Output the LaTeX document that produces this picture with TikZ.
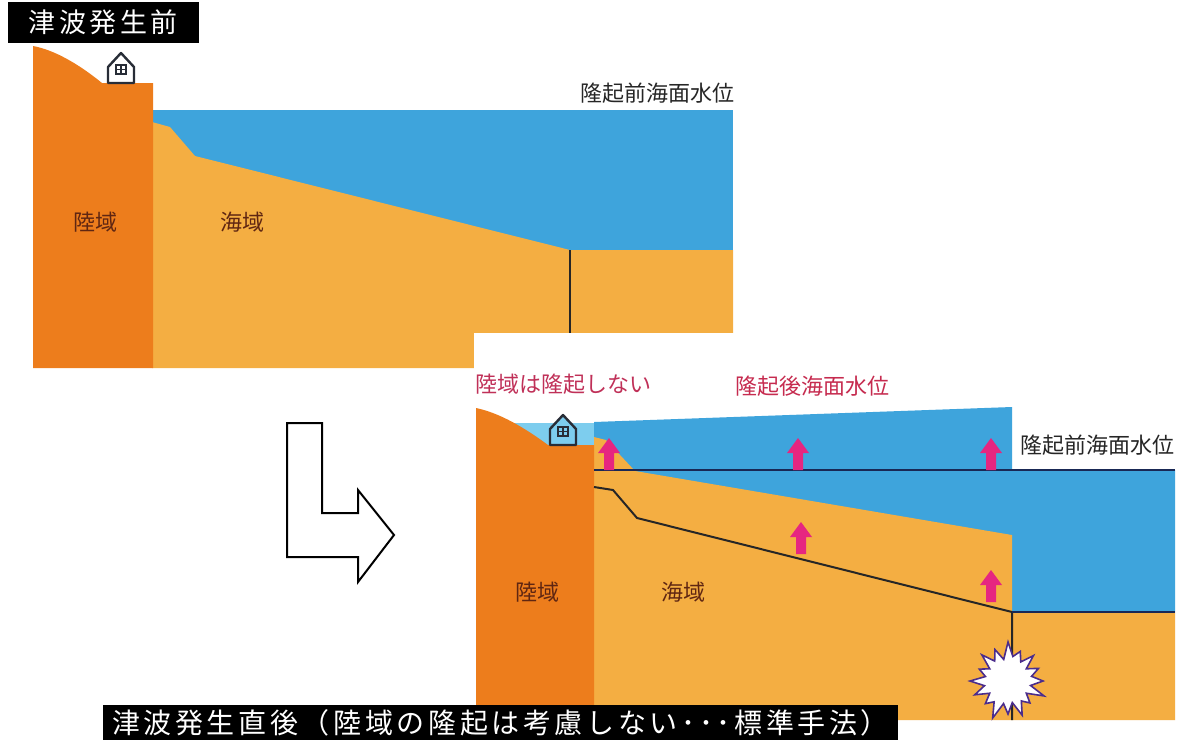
\documentclass[tikz,border=0pt]{standalone}
\usepackage{fontspec}
\setmainfont{Noto Sans CJK JP}
\newfontfamily\jpwide[LetterSpace=13]{Noto Sans CJK JP}
\usetikzlibrary{positioning}

\definecolor{landorange}{RGB}{237,125,28}
\definecolor{floororange}{RGB}{244,174,66}
\definecolor{seablue}{RGB}{62,164,220}
\definecolor{shallowblue}{RGB}{125,205,238}
\definecolor{upmagenta}{RGB}{230,38,128}
\definecolor{notered}{RGB}{192,48,88}
\definecolor{levelnavy}{RGB}{25,40,85}
\definecolor{burstpurple}{RGB}{75,45,140}
\definecolor{earthtext}{RGB}{95,38,18}
\definecolor{housedark}{RGB}{40,45,55}

\tikzset{
    land/.style = {
        fill = landorange,
        },
    seafloor/.style = {
        fill = floororange,
        },
    water/.style = {
        fill = seablue,
        },
    shallow/.style = {
        fill = shallowblue,
        },
    fault/.style = {
        draw = black!85,
        line width = 1pt,
        },
    oldlevel/.style = {
        draw = levelnavy,
        line width = 1pt,
        },
    label/.style = {
        inner sep = 0pt,
        font = \fontsize{11}{13}\selectfont,
        },
    area/.style = {
        label,
        text = earthtext,
        },
    caption/.style = {
        fill = black,
        text = white,
        inner sep = 0pt,
        font = \jpwide\fontsize{13.5}{16}\selectfont,
        },
    burst/.style = {
        fill = white,
        draw = burstpurple,
        line width = 0.8pt,
        line join = miter,
        },
    house/.pic = {
        \path[pic actions, draw = housedark, line width = 1.2pt, line join = round]
            (-13,0) -- (-13,-16) -- (0,-30) -- (13,-16) -- (13,0) -- cycle;
        \draw[housedark, line width = 0.9pt]
            (-5,-18) rectangle (5,-9)
            (0,-18) -- (0,-9)
            (-5,-13.5) -- (5,-13.5);
        },
    uplift/.pic = {
        \fill[upmagenta] (-5,0) -- (-5,-17) -- (-11,-17) -- (0,-32)
            -- (11,-17) -- (5,-17) -- (5,0) -- cycle;
        },
}

\begin{document}
\begin{tikzpicture}[x=0.5pt, y=-0.5pt]
    \useasboundingbox (0,0) rectangle (1182,740);

    % before the tsunami
    \fill[water] (152,110) rectangle (733,250);
    \fill[seafloor] (152,122) -- (170,127) -- (195,156) -- (570,250)
        -- (733,250) -- (733,368) -- (152,368) -- cycle;
    \draw[fault, line width = 0.8pt] (570,250) -- (570,368);
    \fill[land] (33,46) .. controls (55,50) and (80,65) .. (102,83)
        -- (153,83) -- (153,368) -- (33,368) -- cycle;
    \pic[fill = white] at (121,83) {house};

    \node[caption, minimum width = 95.5pt, minimum height = 20.5pt] (before) at (103.5,22.5) {津波発生前};
    \node[label, text = black!85] (level1) at (657,93) {隆起前海面水位};
    \node[area] (land1) at (95,222) {陸域};
    \node[area] (sea1) at (242,222) {海域};

    % right after the tsunami
    \fill[white] (474,333) rectangle (1182,740);
    \fill[shallow] (505,423) rectangle (596,447);
    \fill[water] (594,422) -- (1012,407) -- (1012,470) -- (1175,470)
        -- (1175,612) -- (594,612) -- cycle;
    \fill[seafloor] (594,437) -- (606,440) -- (635,471) -- (1012,535)
        -- (1012,612) -- (1175,612) -- (1175,720) -- (594,720) -- cycle;
    \fill[land] (476,408) .. controls (500,413) and (525,428) .. (548,445)
        -- (594,445) -- (594,720) -- (476,720) -- cycle;
    \pic[fill = shallowblue] at (563,445) {house};

    \draw[oldlevel] (594,470) -- (1175,470);
    \draw[fault] (594,487) -- (613,490) -- (637,518) -- (1012,612) -- (1012,720);
    \draw[oldlevel] (1012,612) -- (1175,612);

    \foreach \px/\py in {609/470, 798/470, 991/470, 801/554, 991/602}
        \pic at (\px,\py) {uplift};

    \draw[burst, shift = {(1008,681)}] (0:35)
        \foreach \a/\ro/\ri in {22.5/39/23, 45/31/22, 67.5/37/24, 90/33/22,
                                112.5/40/23, 135/32/25, 157.5/36/22, 180/38/24,
                                202.5/31/23, 225/37/22, 247.5/34/24, 270/39/22,
                                292.5/32/25, 315/36/23, 337.5/33/22}
            { -- ({\a-11.25}:\ri) -- (\a:\ro) }
        -- (348.75:24) -- cycle;

    \node[label, text = notered] (noland) at (563,384) {陸域は隆起しない};
    \node[label, text = notered!90!red] (level2) at (812,386) {隆起後海面水位};
    \node[label, text = black!85] (level3) at (1097,445) {隆起前海面水位};
    \node[area] (land2) at (537,592) {陸域};
    \node[area] (sea2) at (683,592) {海域};

    % turn arrow between the two states
    \draw[fill = white, line width = 1pt, line join = miter]
        (287,423) -- (322,423) -- (322,513) -- (358,513) -- (358,490)
        -- (394,535) -- (358,582) -- (358,557) -- (287,557) -- cycle;

    \node[caption, font = \jpwide\fontsize{14}{16}\selectfont,
          minimum width = 397.5pt, minimum height = 17.5pt] (after) at (500.5,722.5)
        {津波発生直後（陸域の隆起は考慮しない･･･標準手法）};
\end{tikzpicture}
\end{document}
